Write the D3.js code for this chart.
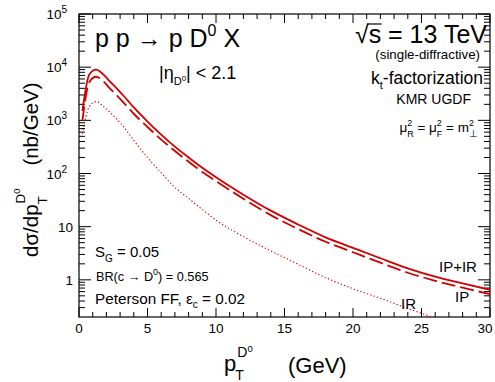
<!DOCTYPE html>
<html><head><meta charset="utf-8">
<script src="https://d3js.org/d3.v7.min.js"></script>
<style>body{margin:0;background:#fff}svg{font-family:"Liberation Sans",Arial,Helvetica,sans-serif}svg text{white-space:pre}</style>
</head><body><svg id="c" width="495" height="382"></svg>
<script>
// ---- data ----
const pT      = [0.25, 0.75, 1.25, 1.75, 2.25, 2.75, 3.25, 4, 5, 6, 7, 8, 9, 10, 12, 14, 16, 18, 20, 22, 24, 26, 28, 30];
const totalIPIR = [1500, 7300, 9000, 7400, 5400, 4000, 2900, 1750, 950, 540, 320, 200, 128, 85, 40, 20, 11, 6.3, 4.0, 2.55, 1.65, 1.15, 0.86, 0.65];
const pomeronIP = [1000, 5200, 6600, 5500, 4000, 2950, 2150, 1330, 750, 435, 265, 166, 107, 72, 33.5, 16.5, 9.0, 5.2, 3.3, 2.1, 1.36, 0.96, 0.71, 0.54];
const pT_IR   = [0.25, 0.75, 1.25, 1.75, 2.25, 2.75, 3.25, 4, 5, 6, 7, 8, 9, 10, 12, 14, 16, 18, 20, 22, 24, 26];
const reggeonIR = [560, 1800, 2250, 1850, 1420, 1050, 760, 420, 200, 103, 55, 34, 21, 13.3, 6.5, 3.5, 1.96, 1.1, 0.68, 0.45, 0.29, 0.19];
const xTickVals = [0, 5, 10, 15, 20, 25, 30];
const yTickVals = [1, 10, 100, 1000, 10000, 100000];
const yTickExp  = ["", "", "2", "3", "4", "5"];

const svg = d3.select("#c");
const L = 79, R = 490, T = 14, B = 317;
const x = d3.scaleLinear().domain([0, 30]).range([L, R]);
const y = d3.scaleLog().domain([0.2, 1e5]).range([B, T]);
const red = "#d10000";

svg.append("clipPath").attr("id", "clp").append("rect")
  .attr("x", L).attr("y", T).attr("width", R - L).attr("height", B - T);

// ticks
const minorY = [];
for (let e = -1; e < 5; e++) for (let m = 2; m < 10; m++) {
  const v = m * Math.pow(10, e);
  if (v > 0.2 && v < 1e5) minorY.push(v);
}
const ax = svg.append("g").attr("stroke", "#000").attr("stroke-width", 1);
yTickVals.forEach(v => {
  ax.append("line").attr("x1", L).attr("x2", L + 12).attr("y1", y(v)).attr("y2", y(v));
  ax.append("line").attr("x1", R).attr("x2", R - 12).attr("y1", y(v)).attr("y2", y(v));
});
minorY.forEach(v => {
  ax.append("line").attr("x1", L).attr("x2", L + 6).attr("y1", y(v)).attr("y2", y(v));
  ax.append("line").attr("x1", R).attr("x2", R - 6).attr("y1", y(v)).attr("y2", y(v));
});
d3.range(0, 31, 1).forEach(v => {
  const len = v % 5 === 0 ? 9 : 5;
  ax.append("line").attr("x1", x(v)).attr("x2", x(v)).attr("y1", B).attr("y2", B - len);
  ax.append("line").attr("x1", x(v)).attr("x2", x(v)).attr("y1", T).attr("y2", T + len);
});
svg.append("rect").attr("x", L).attr("y", T).attr("width", R - L).attr("height", B - T)
  .attr("fill", "none").attr("stroke", "#000").attr("stroke-width", 1.2);

// tick labels
xTickVals.forEach(v => {
  svg.append("text").attr("x", Math.min(x(v), 485)).attr("y", 333).attr("text-anchor", "middle")
    .attr("font-size", 13.5).text(v);
});
yTickVals.forEach((v, i) => {
  const t = svg.append("text").attr("x", 73).attr("y", y(v) + 5).attr("text-anchor", "end").attr("font-size", 13.5);
  if (yTickExp[i]) {
    t.attr("x", 67);
    t.append("tspan").text("10");
    t.append("tspan").attr("dy", -6).attr("font-size", 10).text(yTickExp[i]);
  } else t.text(v);
});

// curves
const g = svg.append("g").attr("clip-path", "url(#clp)").attr("fill", "none").attr("stroke", red);
const line = d3.line().x(d => x(d[0])).y(d => y(d[1])).curve(d3.curveMonotoneX);
g.append("path").attr("d", line(pT.map((p, i) => [p, totalIPIR[i]]))).attr("stroke-width", 1.8);
g.append("path").attr("d", line(pT.map((p, i) => [p, pomeronIP[i]]))).attr("stroke-width", 1.8)
  .attr("stroke-dasharray", "14,5");
g.append("path").attr("d", line(pT_IR.map((p, i) => [p, reggeonIR[i]]))).attr("stroke-width", 1.1)
  .attr("stroke-dasharray", "1.3,2.2");

// layout helper: items {t, s, dy, stack (align start with previous item), dx}
function lay(parent, x0, y0, size, items, anchor) {
  const grp = parent.append("g");
  let cx = 0, prevStart = 0, prevEnd = 0;
  items.forEach(it => {
    const start = (it.stack ? prevStart : cx) + (it.dx || 0);
    const t = grp.append("text").attr("x", start).attr("y", it.dy || 0)
      .attr("font-size", it.s || size).text(it.t);
    const w = t.node().getComputedTextLength();
    const end = start + w;
    if (it.stack) { cx = Math.max(prevEnd, end); }
    else { cx = end; }
    prevStart = start; prevEnd = end;
  });
  const shift = anchor === "end" ? -cx : anchor === "middle" ? -cx / 2 : 0;
  grp.attr("transform", `translate(${x0 + shift},${y0})`);
  return grp;
}

// title & annotations
lay(svg, 95, 47, 25, [{t: "p p \u2192 p D"}, {t: "0", s: 16, dy: -11}, {t: " X"}]);
lay(svg, 159, 79, 18, [{t: "|\u03b7"}, {t: "D", s: 11, dy: 6}, {t: "0", s: 8, dy: 2}, {t: "| < 2.1"}]);
const sq = lay(svg, 487, 43, 25, [{t: "\u221a"}, {t: "s = 13 TeV"}], "end");
{
  const n = sq.selectAll("text").nodes();
  const x1 = +n[1].getAttribute("x");
  sq.append("line").attr("x1", x1 - 1).attr("x2", x1 + 13).attr("y1", -19).attr("y2", -19)
    .attr("stroke", "#000").attr("stroke-width", 1.2);
}
lay(svg, 480, 59, 13.3, [{t: "(single-diffractive)"}], "end");
lay(svg, 483, 84, 17.5, [{t: "k"}, {t: "t", s: 11, dy: 5}, {t: "-factorization"}], "end");
lay(svg, 471, 104, 14, [{t: "KMR UGDF"}], "end");
lay(svg, 478, 132, 13.5, [{t: "\u03bc"}, {t: "2", s: 9, dy: -6.5}, {t: "R", s: 9, dy: 4.5, stack: true},
  {t: " = \u03bc"}, {t: "2", s: 9, dy: -6.5}, {t: "F", s: 9, dy: 4.5, stack: true},
  {t: " = m"}, {t: "2", s: 9, dy: -6.5}, {t: "\u22a5", s: 10, dy: 4.5, stack: true}], "end");

lay(svg, 95, 257, 15, [{t: "S"}, {t: "G", s: 10, dy: 5}, {t: " = 0.05"}]);
lay(svg, 96, 281, 12.7, [{t: "BR(c \u2192 D"}, {t: "0", s: 9, dy: -6}, {t: ") = 0.565"}]);
lay(svg, 95, 304, 15.3, [{t: "Peterson FF, \u03b5"}, {t: "c", s: 10, dy: 4}, {t: " = 0.02"}]);

lay(svg, 439, 272, 15, [{t: "IP+IR"}]);
lay(svg, 455, 302, 15, [{t: "IP"}]);
lay(svg, 401, 309, 15, [{t: "IR"}]);

// axis titles
lay(svg, 224, 371, 22, [{t: "p"}, {t: "T", s: 14, dy: 9, dx: -1}, {t: "D", s: 14, dy: -14, stack: true, dx: 2},
  {t: "0", s: 9.5, dy: -19}]);
lay(svg, 288, 373, 22, [{t: "(GeV)"}]);

const yl = svg.append("g").attr("transform", "translate(38,257) rotate(-90)");
lay(yl, 0, 0, 20.5, [{t: "d\u03c3/dp"}, {t: "T", s: 13.5, dy: 9}, {t: "D", s: 13.5, dy: -13, stack: true, dx: 1},
  {t: "0", s: 9.5, dy: -18}, {t: "    (nb/GeV)"}]);
</script></body></html>
